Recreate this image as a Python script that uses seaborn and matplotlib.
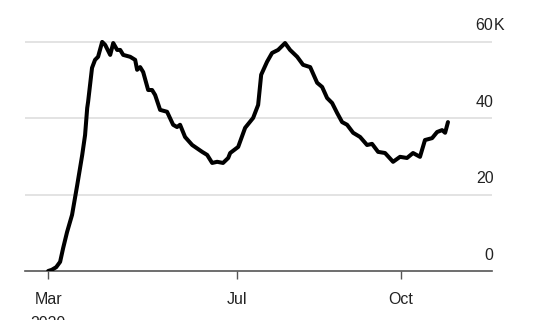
import matplotlib
matplotlib.use("Agg")
import matplotlib.pyplot as plt
import seaborn as sns
import pandas as pd

# days since 2020-03-01
days = [16, 18, 20.5, 22.7, 24.4, 26.6, 29.4, 32.3, 35.1, 36.7, 37.9, 38.4, 40.6, 42.3,
        44.0, 46.3, 48.0, 50.8, 52.5, 54.7, 56.4, 58.1, 62.0, 64.8, 65.9, 67.6, 69.3,
        72.1, 74.3, 76.0, 78.8, 82.7, 86.1, 88.3, 90.0, 92.8, 96.8, 102.4, 105.2, 108.0,
        110.8, 114.1, 117.0, 118.1, 122.6, 126.5, 131.0, 133.8, 135.5, 138.8, 141.6,
        145.0, 148.9, 151.7, 155.7, 159.0, 163.0, 166.9, 169.7, 172.5, 175.3, 178.1,
        180.9, 183.7, 187.1, 191.0, 194.9, 197.7, 201.1, 205.0, 209.5, 213.4, 217.3,
        220.7, 224.6, 227.4, 231.4, 234.2, 237.0, 238.7, 240.3]
values_k = [0.0, 0.3, 1.0, 2.4, 6.0, 10.2, 14.7, 22.5, 30.4, 35.6, 42.7, 44.3, 53.2, 55.3,
            56.1, 60.0, 59.2, 56.6, 59.7, 57.9, 57.9, 56.6, 56.1, 55.3, 52.7, 53.4, 52.1,
            47.4, 47.4, 46.1, 42.2, 41.7, 38.3, 37.7, 38.3, 35.1, 33.0, 31.2, 30.4, 28.3,
            28.6, 28.3, 29.6, 30.9, 32.5, 37.5, 40.1, 43.5, 51.4, 54.8, 57.1,
            57.9, 59.7, 57.9, 56.1, 54.0, 53.4, 49.3, 48.2, 45.3, 44.0, 41.4,
            39.0, 38.3, 36.2, 35.1, 33.0, 33.3, 31.2, 30.9, 28.6, 29.9, 29.6,
            30.9, 29.9, 34.3, 34.8, 36.4, 36.9, 36.2, 39.0]

ytick_vals = [0, 20, 40, 60]
ytick_nums = ["0", "20", "40", "60"]
ytick_suffix = ["", "", "", "K"]
xtick_dates = ["2020-03-17", "2020-07-01", "2020-10-01"]
xtick_labels = ["Mar\n2020", "Jul", "Oct"]

sns.set_theme(style="white")
plt.rcParams["font.family"] = ["Liberation Sans", "DejaVu Sans"]

fig = plt.figure(figsize=(5.4, 3.2), dpi=100)
ax = fig.add_axes([25 / 540, 49 / 320, 467 / 540, 231 / 320])

df = pd.DataFrame({
    "date": pd.Timestamp("2020-03-01") + pd.to_timedelta(days, unit="D"),
    "value": values_k,
})
sns.lineplot(data=df, x="date", y="value", ax=ax, color="black", lw=2.9, zorder=3)

ax.set_ylim(0, 60.5)
ax.set_xlim(pd.Timestamp("2020-03-04"), pd.Timestamp("2020-11-21"))

for v in ytick_vals[1:]:
    ax.axhline(v, color="#dedede", lw=1.2, zorder=0)

for s in ["top", "left", "right"]:
    ax.spines[s].set_visible(False)
ax.spines["bottom"].set_color("#555555")
ax.spines["bottom"].set_linewidth(1.2)

ax.set_yticks([])
ax.set_xticks(pd.to_datetime(xtick_dates))
ax.set_xticklabels(xtick_labels, linespacing=1.75)
ax.tick_params(axis="x", length=6, width=1.0, color="#555555", labelsize=11.5,
               labelcolor="#222222", pad=9, bottom=True)
ax.set_xlabel("")
ax.set_ylabel("")

for v, num, suf in zip(ytick_vals, ytick_nums, ytick_suffix):
    ax.annotate(num, xy=(1.0, v), xycoords=("axes fraction", "data"),
                xytext=(1, 11.5), textcoords="offset points", ha="right", va="center",
                fontsize=11.5, color="#222222")
    if suf:
        ax.annotate(suf, xy=(1.0, v), xycoords=("axes fraction", "data"),
                    xytext=(1, 11.5), textcoords="offset points", ha="left", va="center",
                    fontsize=11.5, color="#222222")

fig.savefig("out.png", dpi=100)
